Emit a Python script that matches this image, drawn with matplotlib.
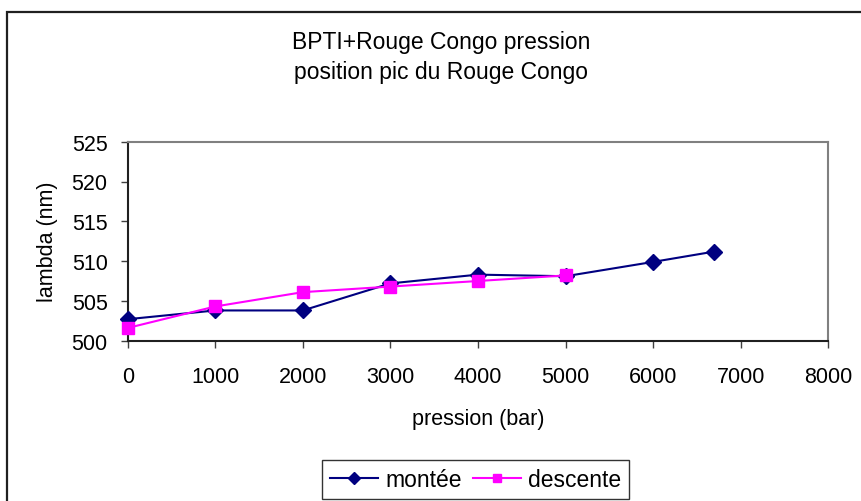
import matplotlib
matplotlib.use("Agg")
import matplotlib.pyplot as plt
from matplotlib.patches import Rectangle

plt.rcParams['font.family'] = ['Liberation Sans', 'DejaVu Sans']

# pression (bar) et position du pic (nm)
pression_montee = [0, 1000, 2000, 3000, 4000, 5000, 6000, 6700]
lambda_montee = [502.7, 503.8, 503.8, 507.2, 508.3, 508.1, 509.9, 511.2]
pression_descente = [0, 1000, 2000, 3000, 4000, 5000]
lambda_descente = [501.6, 504.3, 506.1, 506.8, 507.5, 508.2]

xticks = [0, 1000, 2000, 3000, 4000, 5000, 6000, 7000, 8000]
yticks = [500, 505, 510, 515, 520, 525]

W, H = 862, 502
FS_TICK = 15.5
FS = 16.5
fig = plt.figure(figsize=(W / 100, H / 100), dpi=100)
fig.patch.set_facecolor('white')

# cadre du graphique
fig.patches.append(Rectangle((7 / W, -0.1), 1.2, 1 - 13 / H + 0.1,
                             transform=fig.transFigure, fill=False,
                             edgecolor='#202020', linewidth=1.6))

ax = fig.add_axes([127.7 / W, (H - 341.7) / H, 700.6 / W, 199 / H])
ax.set_facecolor('white')

ax.plot(pression_montee, lambda_montee, color='#000080', lw=1.5,
        marker='D', markersize=8, label='montée', clip_on=False, zorder=3)
ax.plot(pression_descente, lambda_descente, color='#FF00FF', lw=1.5,
        marker='s', markersize=8, label='descente', clip_on=False, zorder=4)

ax.set_xlim(0, 8000)
ax.set_ylim(500, 525)
ax.set_xticks(xticks)
ax.set_yticks(yticks)
ax.tick_params(axis='both', direction='out', length=5, width=1,
               colors='#404040', labelcolor='black', labelsize=FS_TICK)
ax.tick_params(axis='x', pad=13)
ax.tick_params(axis='y', pad=9.5)

for s in ['top', 'right']:
    ax.spines[s].set_color('#808080')
    ax.spines[s].set_linewidth(1.5)
for s in ['left', 'bottom']:
    ax.spines[s].set_color('#202020')
    ax.spines[s].set_linewidth(1.5)

ax.set_xlabel('pression (bar)', fontsize=FS_TICK, labelpad=15)
ax.set_ylabel('lambda (nm)', fontsize=FS_TICK, labelpad=10)

fig.text(441 / W, 1 - 43 / H, 'BPTI+Rouge Congo pression', ha='center',
         va='center', fontsize=FS)
fig.text(441 / W, 1 - 73 / H, 'position pic du Rouge Congo', ha='center',
         va='center', fontsize=FS)

leg = fig.legend(loc='upper left', bbox_to_anchor=(322 / W, 1 - 461 / H),
                 ncol=2, fontsize=FS, frameon=True, fancybox=False,
                 edgecolor='black', handlelength=2.1, handletextpad=0.3,
                 columnspacing=0.5, borderpad=0.35, borderaxespad=0,
                 markerscale=0.75)
leg.get_frame().set_linewidth(1.0)

fig.savefig('out.png', dpi=100)
